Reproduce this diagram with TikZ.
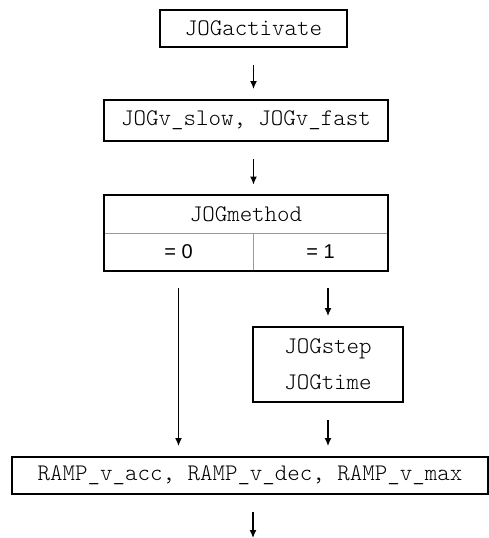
\documentclass[tikz,border=0pt]{standalone}
\usepackage{fontspec}
\setmainfont{Liberation Sans}
\setsansfont{Liberation Sans}
\setmonofont{Latin Modern Mono Light}
\usepackage{tikz}
\usetikzlibrary{positioning,arrows.meta,calc}

\begin{document}
\begin{tikzpicture}[
  x=0.5pt, y=-0.5pt,
  par/.style={draw=black, line width=1pt, inner sep=0pt, font=\fontsize{11.9pt}{18pt}\selectfont\ttfamily, align=center},
  cell/.style={draw=gray!80, line width=0.4pt, inner sep=0pt, font=\fontsize{10pt}{12pt}\selectfont},
  ar/.style={-{Latex[length=4pt,width=3.4pt]}, line width=0.55pt, shorten <=8.5pt, shorten >=5pt},
]
\useasboundingbox (0,0) rectangle (489,538);
% ---- parameter boxes ----
\node[par, minimum width=93.5pt, minimum height=18.5pt] (act) at (253.5,28.5) {JOGactivate};
\node[par, minimum width=142pt, minimum height=20.5pt] (spd) at (246,120.5) {JOGv\_slow, JOGv\_fast};
% ---- method table ----
\node[cell, font=\fontsize{11.9pt}{12pt}\selectfont\ttfamily, minimum width=142pt, minimum height=19pt] (meth) at (246,214) {JOGmethod};
\node[cell, minimum width=74.5pt, minimum height=19pt] (m0) at (178.5,252) {= 0};
\node[cell, minimum width=67.5pt, minimum height=19pt] (m1) at (320.5,252) {= 1};
\draw[line width=1pt] (meth.north west) rectangle (m1.south east);
% ---- step / time ----
\node[par, minimum width=75pt, minimum height=37.5pt] (stp) at (328,364.5) {JOGstep\\JOGtime};
\node[par, minimum width=238pt, minimum height=18.5pt] (ramp) at (250,475.5) {RAMP\_v\_acc, RAMP\_v\_dec, RAMP\_v\_max};
\coordinate (out) at (253,538);
% arrows
\draw[ar] (act.south) -- (act.south |- spd.north);
\draw[ar] (act.south |- spd.south) -- (act.south |- meth.north);
\draw[ar] (m0.south) -- (m0.south |- ramp.north);
\draw[ar] (stp.north |- m1.south) -- (stp.north);
\draw[ar] (stp.south) -- (stp.south |- ramp.north);
\draw[ar, shorten >=0pt] (ramp.south -| out) -- (out);
\end{tikzpicture}
\end{document}
